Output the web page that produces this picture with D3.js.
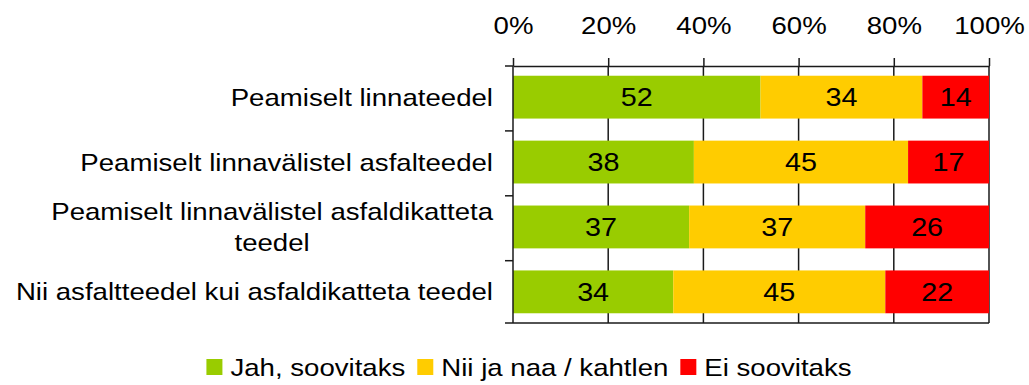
<!DOCTYPE html>
<html>
<head>
<meta charset="utf-8">
<script src="https://cdn.jsdelivr.net/npm/d3@7"></script>
<style>
  html, body { margin: 0; padding: 0; background: #fff; }
  svg { display: block; font-family: "Liberation Sans", Arial, sans-serif; }
</style>
</head>
<body>
<svg id="chart" width="1029" height="385"></svg>
<script>
// Survey answers per road type, percent of respondents
const categories = [
  ["Peamiselt linnateedel"],
  ["Peamiselt linnavälistel asfalteedel"],
  ["Peamiselt linnavälistel asfaldikatteta", "teedel"],
  ["Nii asfaltteedel kui asfaldikatteta teedel"]
];
const seriesNames = ["Jah, soovitaks", "Nii ja naa / kahtlen", "Ei soovitaks"];
const seriesColors = ["#99CC00", "#FFCC00", "#FF0000"];
const yes   = [52, 38, 37, 34];
const maybe = [34, 45, 37, 45];
const no    = [14, 17, 26, 22];
const tickValues = [0, 20, 40, 60, 80, 100];

const svg = d3.select("#chart");
const plotLeft = 513, plotRight = 989, plotTop = 66, plotBottom = 323;
const sx = 1.15;          // slightly wide lettering
const ink = "#1a1a1a";

// place a text element at (px, py) with horizontal widening
function place(t, px, py) {
  return t.attr("x", 0).attr("y", 0)
    .attr("transform", `translate(${px},${py}) scale(${sx},1)`);
}

const x = d3.scaleLinear().domain([0, 1]).range([plotLeft, plotRight]);
const keys = categories.map((c, i) => i);
const y = d3.scaleBand().domain(keys).range([plotTop, plotBottom])
  .paddingInner(0.34).paddingOuter(0.15);

// each row is scaled to its own total (100% stacked bars)
const rows = keys.map(i => ({ i, values: [yes[i], maybe[i], no[i]] }));
const stacked = d3.stack().keys([0, 1, 2])
  .value((d, k) => d.values[k])
  .offset(d3.stackOffsetExpand)(rows);

// vertical gridlines (20% .. 100%)
svg.append("g").selectAll("line")
  .data(tickValues.slice(1))
  .join("line")
  .attr("x1", d => x(d / 100)).attr("x2", d => x(d / 100))
  .attr("y1", plotTop).attr("y2", plotBottom)
  .attr("stroke", ink).attr("stroke-width", 1.5);

// stacked bars
const layer = svg.append("g").selectAll("g")
  .data(stacked)
  .join("g")
  .attr("fill", (d, k) => seriesColors[k]);

layer.selectAll("rect")
  .data(d => d)
  .join("rect")
  .attr("x", d => x(d[0]))
  .attr("width", d => x(d[1]) - x(d[0]))
  .attr("y", d => y(d.data.i))
  .attr("height", y.bandwidth());

// value labels in the middle of every segment
layer.each(function (s) {
  const k = s.key;
  d3.select(this).selectAll("text")
    .data(s)
    .join("text")
    .attr("dy", "0.36em")
    .attr("text-anchor", "middle")
    .attr("font-size", 25)
    .attr("fill", "#000")
    .text(d => d.data.values[k])
    .each(function (d) {
      place(d3.select(this), (x(d[0]) + x(d[1])) / 2, y(d.data.i) + y.bandwidth() / 2);
    });
});

// top axis with percentage ticks
const xAxis = d3.axisTop(x).tickValues(tickValues.map(v => v / 100))
  .tickFormat(d => Math.round(d * 100) + "%").tickSize(8).tickSizeOuter(0);
const gx = svg.append("g").attr("transform", `translate(0,${plotTop})`).call(xAxis);
gx.select(".domain").attr("stroke", ink).attr("stroke-width", 1.5);
gx.selectAll(".tick line").attr("stroke", ink).attr("stroke-width", 1.5);
gx.selectAll(".tick text")
  .attr("font-family", "Liberation Sans, Arial, sans-serif")
  .attr("font-size", 24).attr("fill", "#000").attr("dy", null)
  .each(function () { place(d3.select(this), 0, 34 - plotTop); });

// bottom border
svg.append("line")
  .attr("x1", plotLeft).attr("x2", plotRight).attr("y1", plotBottom).attr("y2", plotBottom)
  .attr("stroke", ink).attr("stroke-width", 1.5);

// left axis: domain line and ticks on band boundaries
const boundaries = keys.map(i => plotTop + i * y.step()).concat([plotBottom]);
svg.append("line")
  .attr("x1", plotLeft).attr("x2", plotLeft).attr("y1", plotTop).attr("y2", plotBottom)
  .attr("stroke", ink).attr("stroke-width", 1.5);
svg.append("g").selectAll("line")
  .data(boundaries)
  .join("line")
  .attr("x1", plotLeft - 8).attr("x2", plotLeft)
  .attr("y1", d => d).attr("y2", d => d)
  .attr("stroke", ink).attr("stroke-width", 1.5);

// category labels, right aligned; wrapped lines centred under the first one
const labelX = 493, lineH = 31;
const labelG = svg.append("g").attr("font-size", 24).attr("fill", "#000");
categories.forEach((lines, i) => {
  const cy = y(i) + y.bandwidth() / 2;
  const first = -(lines.length - 1) * lineH / 2;
  const t0 = place(labelG.append("text").attr("dy", "0.36em")
    .attr("text-anchor", "end").text(lines[0]), labelX, cy + first);
  const w0 = t0.node().getComputedTextLength() * sx;
  lines.slice(1).forEach((ln, j) => {
    place(labelG.append("text").attr("dy", "0.36em")
      .attr("text-anchor", "middle").text(ln),
      labelX - w0 / 2, cy + first + (j + 1) * lineH);
  });
});

// legend, centred along the bottom
const legend = svg.append("g").attr("font-size", 24);
const box = 16, gapText = 8, gapItem = 12;
let cx = 0;
seriesNames.forEach((name, k) => {
  const g = legend.append("g");
  g.append("rect").attr("width", box).attr("height", box)
    .attr("y", -box / 2).attr("fill", seriesColors[k]);
  const t = place(g.append("text").attr("dy", "0.36em")
    .attr("fill", "#000").text(name), box + gapText, 0);
  const w = box + gapText + t.node().getComputedTextLength() * sx;
  g.attr("transform", `translate(${cx},0)`);
  cx += w + gapItem;
});
const total = cx - gapItem;
legend.attr("transform", `translate(${529 - total / 2},367)`);
</script>
</body>
</html>
